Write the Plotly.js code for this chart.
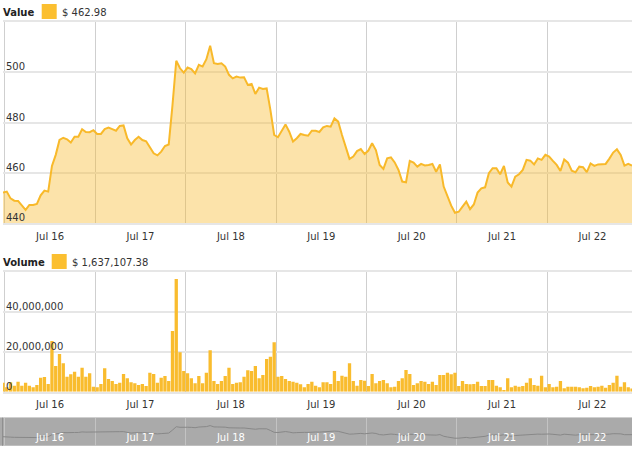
<!DOCTYPE html>
<html>
<head>
<meta charset="utf-8">
<script src="https://cdn.plot.ly/plotly-3.0.1.min.js"></script>
<style>
html,body{margin:0;padding:0;background:#fff;}
#chart{width:632px;height:449px;}
</style>
</head>
<body>
<div id="chart"></div>
<script>
// ---- data (hourly) ----
var startUTC = Date.UTC(2016, 6, 15, 23, 30); // first sample
var stepMs = 3600000;

var priceValues = [
452.2, 452.6, 449.9, 449.0, 448.9, 446.9, 445.3, 447.3, 447.3, 447.7,
451.1, 453.0, 452.6, 462.8, 467.2, 473.1, 474.0, 473.4, 472.1, 474.4,
474.4, 477.4, 476.3, 476.2, 477.0, 475.5, 475.5, 477.4, 478.0, 477.4,
476.8, 478.7, 478.9, 473.8, 471.3, 473.1, 474.4, 473.1, 472.6, 470.2,
467.8, 467.0, 468.5, 470.7, 471.3, 487.0, 504.6, 501.6, 499.9, 501.9,
501.3, 499.6, 503.0, 502.3, 505.2, 510.6, 503.6, 503.3, 503.6, 502.3,
499.0, 497.6, 498.3, 497.9, 498.0, 495.0, 495.4, 491.4, 493.9, 493.4,
493.6, 485.0, 475.1, 474.2, 476.8, 479.3, 476.4, 472.5, 473.8, 475.5,
475.1, 474.8, 476.8, 476.8, 476.3, 478.1, 478.7, 478.4, 481.7, 480.4,
475.1, 470.2, 465.6, 466.5, 468.7, 469.5, 467.5, 468.9, 471.8, 469.1,
463.2, 461.6, 465.8, 466.2, 464.2, 461.2, 456.6, 456.3, 464.8, 464.1,
462.5, 463.6, 463.0, 463.2, 463.6, 460.5, 463.4, 454.6, 450.6, 447.0,
444.2, 444.6, 446.6, 448.6, 445.6, 447.5, 452.2, 453.9, 454.3, 459.9,
461.9, 461.9, 459.5, 462.8, 456.2, 454.6, 458.5, 459.5, 461.2, 465.2,
464.9, 463.4, 465.8, 465.2, 467.2, 466.5, 464.8, 463.2, 460.8, 465.4,
464.1, 460.9, 460.3, 462.5, 462.3, 460.3, 463.8, 462.8, 463.4, 463.6,
463.6, 465.7, 468.1, 469.4, 467.2, 462.9, 463.6, 462.98
];

// volume in millions of $
var volumeMillions = [
4.5, 2.2, 4.7, 3.0, 5.0, 3.0, 4.5, 3.0, 2.2, 3.3,
7.0, 7.3, 3.8, 25.3, 12.8, 18.8, 14.2, 7.5, 8.7, 10.0,
7.5, 12.0, 7.5, 9.2, 2.5, 2.2, 3.8, 11.7, 6.3, 5.3,
3.8, 4.5, 8.8, 6.7, 4.7, 4.2, 3.3, 3.8, 2.8, 9.5,
8.8, 4.5, 7.0, 7.8, 5.3, 30.3, 56.3, 19.7, 10.3, 9.2,
6.7, 4.2, 7.8, 4.2, 9.5, 20.7, 5.3, 3.8, 5.3, 7.8,
12.0, 3.8, 4.5, 4.7, 7.5, 10.7, 10.3, 12.8, 6.7, 8.3,
16.3, 17.5, 24.7, 7.5, 7.8, 6.3, 5.3, 5.0, 4.5, 3.7,
2.2, 3.8, 5.0, 3.0, 2.2, 4.7, 4.7, 3.8, 10.3, 5.3,
8.0, 7.5, 14.2, 5.3, 3.0, 5.8, 5.5, 2.8, 8.8, 4.2,
5.3, 5.8, 4.2, 2.2, 2.5, 5.3, 6.7, 10.8, 8.8, 3.3,
4.2, 5.3, 5.0, 3.8, 5.0, 3.3, 8.3, 8.3, 9.5, 8.7,
9.5, 2.8, 5.3, 3.8, 3.7, 3.8, 5.0, 2.8, 2.8, 5.8,
5.8, 3.0, 2.2, 0.8, 6.7, 2.2, 3.0, 2.5, 2.8, 4.5,
6.7, 3.3, 3.0, 8.0, 2.2, 3.8, 2.2, 2.5, 5.3, 1.7,
2.5, 2.5, 2.5, 2.2, 1.7, 2.0, 2.8, 2.2, 2.5, 3.0,
2.0, 3.3, 4.5, 8.0, 2.5, 4.7, 2.2, 1.63710738
];

var priceTicks = [440, 460, 480, 500];
var volumeTicks = [0, 20000000, 40000000];
var priceRange = [440, 520];
var volumeRange = [0, 60000000];
var navRange = [405, 552];

// ---- build ----
var times = priceValues.map(function (_, i) { return startUTC + i * stepMs; });
var volumes = volumeMillions.map(function (v) { return v * 1e6; });

var W = 632, H = 449, ML = 3, MR = 0;
function px(x) { return (x - ML) / (W - ML - MR); }
function py(y) { return (H - y) / H; }

var orange = '#f8b92a';
var fmt2 = function (v) {
  return v.toLocaleString('en-US', { minimumFractionDigits: 2, maximumFractionDigits: 2 });
};
var lastPrice = priceValues[priceValues.length - 1];
var lastVolume = volumes[volumes.length - 1];

var font = 'DejaVu Sans, Verdana, sans-serif';

var traces = [
  {
    type: 'scatter', mode: 'lines', x: times, y: priceValues,
    xaxis: 'x', yaxis: 'y',
    line: { color: orange, width: 2 },
    fill: 'tozeroy', fillcolor: 'rgba(248,185,42,0.40)',
    hoverinfo: 'skip'
  },
  {
    type: 'bar', x: times, y: volumes,
    xaxis: 'x2', yaxis: 'y2',
    marker: { color: '#f9bc2e', line: { width: 0 } },
    hoverinfo: 'skip'
  },
  {
    type: 'scatter', mode: 'lines', x: times, y: priceValues,
    xaxis: 'x3', yaxis: 'y3',
    line: { color: '#888888', width: 1 },
    hoverinfo: 'skip'
  }
];

var xRange = [times[0], times[times.length - 1]];
function xa(anchor, extra) {
  var a = {
    type: 'date', anchor: anchor, domain: [0, 1], range: xRange,
    tick0: '2016-07-16', dtick: 86400000, ticklabelmode: 'period',
    tickformat: '%b %d', ticks: '', showgrid: true,
    gridcolor: '#cfcfcf', gridwidth: 1, zeroline: false,
    tickfont: { family: font, size: 10, color: '#333333' },
    fixedrange: true
  };
  for (var k in extra) a[k] = extra[k];
  return a;
}

var annotations = [
  { xref: 'paper', yref: 'paper', x: px(1.5), y: py(12.5), xanchor: 'left', yanchor: 'middle',
    text: '<b>Value</b>', showarrow: false, borderpad: 0,
    font: { family: font, size: 10, color: '#222222' } },
  { xref: 'paper', yref: 'paper', x: px(61), y: py(12.5), xanchor: 'left', yanchor: 'middle',
    text: '$ ' + fmt2(lastPrice), showarrow: false, borderpad: 0,
    font: { family: font, size: 10, color: '#333333' } },
  { xref: 'paper', yref: 'paper', x: px(1.5), y: py(262.5), xanchor: 'left', yanchor: 'middle',
    text: '<b>Volume</b>', showarrow: false, borderpad: 0,
    font: { family: font, size: 10, color: '#222222' } },
  { xref: 'paper', yref: 'paper', x: px(71), y: py(262.5), xanchor: 'left', yanchor: 'middle',
    text: '$ ' + fmt2(lastVolume), showarrow: false, borderpad: 0,
    font: { family: font, size: 10, color: '#333333' } }
];
// y tick labels drawn inside the plot, just above each gridline
priceTicks.forEach(function (v) {
  annotations.push({ xref: 'paper', yref: 'y', x: px(4.5), y: v, xanchor: 'left', yanchor: 'middle',
    yshift: 5.5, text: String(v), showarrow: false, borderpad: 0,
    font: { family: font, size: 10, color: '#333333' } });
});
volumeTicks.forEach(function (v) {
  annotations.push({ xref: 'paper', yref: 'y2', x: px(4.5), y: v, xanchor: 'left', yanchor: 'middle',
    yshift: 5.5, text: v.toLocaleString('en-US'), showarrow: false, borderpad: 0,
    font: { family: font, size: 10, color: '#333333' } });
});

var layout = {
  width: W, height: H,
  margin: { l: ML, r: MR, t: 0, b: 0 },
  paper_bgcolor: '#ffffff', plot_bgcolor: 'rgba(0,0,0,0)',
  showlegend: false, bargap: 0.12,
  font: { family: font, size: 10, color: '#333333' },
  xaxis: xa('y', { showline: true, mirror: true, linecolor: '#e6e6e6', linewidth: 2, ticklabelstandoff: 3 }),
  yaxis: {
    domain: [py(223.3), py(22)], range: priceRange, tickvals: priceTicks,
    showticklabels: false, ticks: '', gridcolor: '#e6e6e6', gridwidth: 2,
    zeroline: false, showline: false, fixedrange: true
  },
  xaxis2: xa('y2', { showline: true, mirror: true, linecolor: '#e6e6e6', linewidth: 2, ticklabelstandoff: 2 }),
  yaxis2: {
    domain: [py(391.7), py(271.7)], range: volumeRange, tickvals: volumeTicks,
    showticklabels: false, ticks: '', gridcolor: '#e6e6e6', gridwidth: 2,
    zeroline: false, showline: false, fixedrange: true
  },
  xaxis3: xa('y3', {
    ticklabelposition: 'inside', gridcolor: '#c3c3c3',
    tickfont: { family: font, size: 10, color: '#ffffff' }
  }),
  yaxis3: {
    domain: [py(445.7), py(417.7)], range: navRange,
    showgrid: false, showticklabels: false, zeroline: false, ticks: '', fixedrange: true
  },
  shapes: [
    { type: 'rect', xref: 'paper', yref: 'paper', layer: 'below',
      x0: px(0), x1: px(632), y0: py(445.7), y1: py(417.7),
      fillcolor: '#aaaaaa', line: { width: 0 } },
    { type: 'line', xref: 'paper', yref: 'paper', layer: 'above',
      x0: px(0), x1: px(632), y0: py(417.5), y1: py(417.5),
      line: { color: '#cfcfcf', width: 1 } },
    { type: 'line', xref: 'paper', yref: 'paper', layer: 'above',
      x0: px(2.5), x1: px(2.5), y0: py(445.7), y1: py(417.7),
      line: { color: '#8f8f8f', width: 1 } },
    { type: 'rect', xref: 'paper', yref: 'paper',
      x0: px(41.7), x1: px(56.7), y0: py(19), y1: py(4),
      fillcolor: '#fbbf30', line: { width: 0 } },
    { type: 'rect', xref: 'paper', yref: 'paper',
      x0: px(51.7), x1: px(66.7), y0: py(269), y1: py(254),
      fillcolor: '#fbbf30', line: { width: 0 } }
  ],
  annotations: annotations
};

Plotly.newPlot('chart', traces, layout, { displayModeBar: false, staticPlot: true });
</script>
</body>
</html>
